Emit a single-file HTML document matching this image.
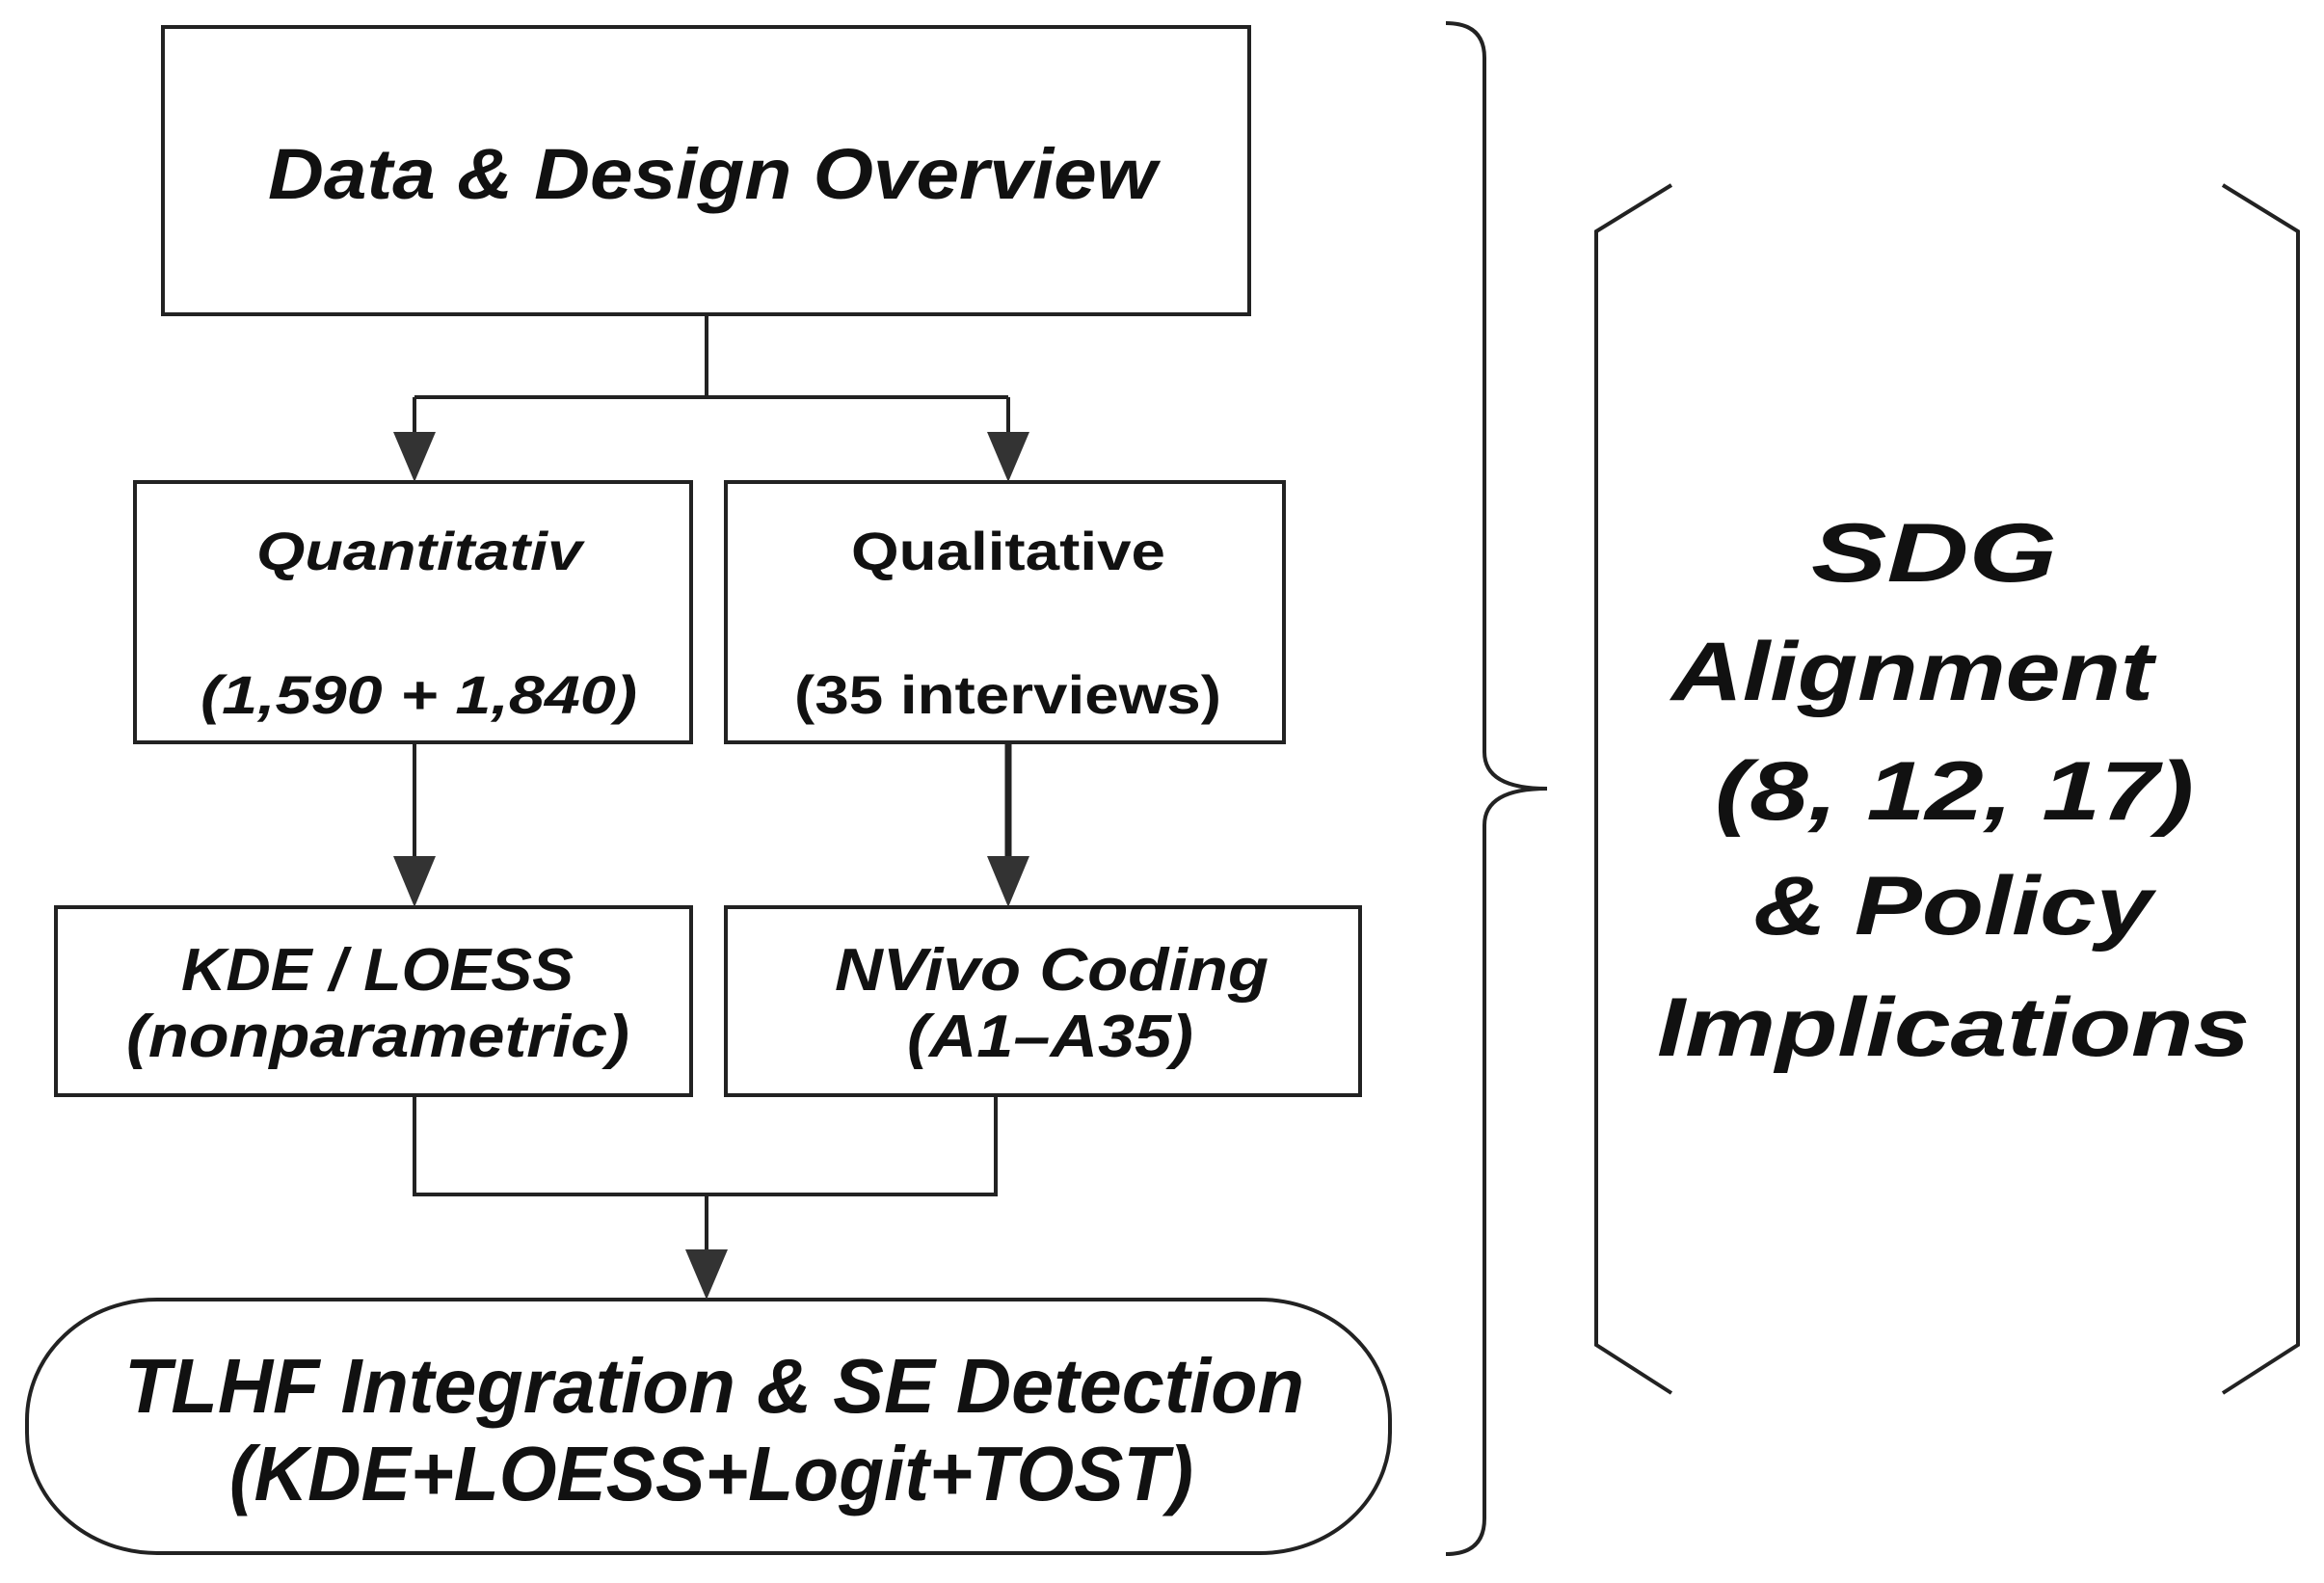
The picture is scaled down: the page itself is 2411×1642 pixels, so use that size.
<!DOCTYPE html>
<html><head><meta charset="utf-8"><style>html,body{margin:0;padding:0;background:#fff}</style></head>
<body>
<svg width="2411" height="1637" viewBox="0 0 2411 1637" xmlns="http://www.w3.org/2000/svg" font-family="Liberation Sans, sans-serif" font-weight="bold">
<g fill="none" stroke="#222" stroke-width="4">
<rect x="169" y="28" width="1127" height="298"/>
<rect x="140" y="500" width="577" height="270"/>
<rect x="753" y="500" width="579" height="270"/>
<rect x="58" y="941" width="659" height="195"/>
<rect x="753" y="941" width="658" height="195"/>
<rect x="28" y="1348" width="1414" height="263" rx="135" ry="125"/>
<path d="M733 326V412M430 412H1046M430 412V450M1046 412V450"/>
<path d="M430 770V890"/>
<path d="M1046 770V890" stroke-width="7"/>
<path d="M430 1136V1239H1033V1136M733 1239V1298"/>
<path d="M1500 24Q1540 24 1540 60V780Q1540 818 1605 818Q1540 818 1540 856V1575Q1540 1612 1500 1612"/>
<path d="M1734 192L1656 240V1395L1734 1445"/>
<path d="M2306 192L2384 240V1395L2306 1445"/>
</g>
<g fill="#333">
<polygon points="408,448 452,448 430,500"/>
<polygon points="1024,448 1068,448 1046,500"/>
<polygon points="408,888 452,888 430,941"/>
<polygon points="1024,888 1068,888 1046,941"/>
<polygon points="711,1296 755,1296 733,1348"/>
</g>
<g fill="#111" font-style="italic">
<text x="278" y="206" font-size="74" textLength="922" lengthAdjust="spacingAndGlyphs">Data &amp; Design Overview</text>
<text x="266" y="591" font-size="56" textLength="338" lengthAdjust="spacingAndGlyphs">Quantitativ</text>
<text x="208" y="740" font-size="56" textLength="453" lengthAdjust="spacingAndGlyphs">(1,590 + 1,840)</text>
<text x="188" y="1027" font-size="62" textLength="407" lengthAdjust="spacingAndGlyphs">KDE / LOESS</text>
<text x="131" y="1096" font-size="62" textLength="522" lengthAdjust="spacingAndGlyphs">(nonparametric)</text>
<text x="866" y="1027" font-size="62" textLength="450" lengthAdjust="spacingAndGlyphs">NVivo Coding</text>
<text x="941" y="1096" font-size="62" textLength="297" lengthAdjust="spacingAndGlyphs">(A1–A35)</text>
<text x="129" y="1465" font-size="80" textLength="1224" lengthAdjust="spacingAndGlyphs">TLHF Integration &amp; SE Detection</text>
<text x="238" y="1556" font-size="80" textLength="1000" lengthAdjust="spacingAndGlyphs">(KDE+LOESS+Logit+TOST)</text>
<text x="1879" y="603" font-size="86" textLength="255" lengthAdjust="spacingAndGlyphs">SDG</text>
<text x="1734" y="726" font-size="86" textLength="500" lengthAdjust="spacingAndGlyphs">Alignment</text>
<text x="1779" y="850" font-size="86" textLength="497" lengthAdjust="spacingAndGlyphs">(8, 12, 17)</text>
<text x="1819" y="969" font-size="86" textLength="414" lengthAdjust="spacingAndGlyphs">&amp; Policy</text>
<text x="1719" y="1095" font-size="86" textLength="615" lengthAdjust="spacingAndGlyphs">Implications</text>
</g>
<g fill="#111">
<text x="883" y="591" font-size="56" textLength="326" lengthAdjust="spacingAndGlyphs">Qualitative</text>
<text x="824" y="740" font-size="56" textLength="443" lengthAdjust="spacingAndGlyphs">(35 interviews)</text>
</g>
</svg>
</body></html>
